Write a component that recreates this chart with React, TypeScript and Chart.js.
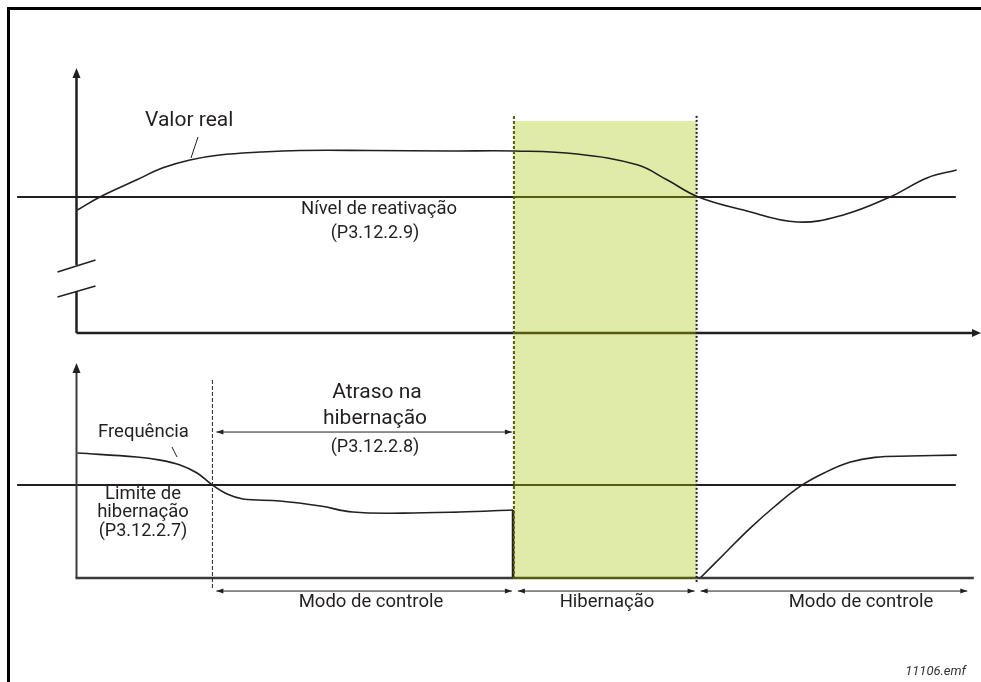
import React, { useEffect, useRef } from "react";
import { Chart, registerables } from "chart.js";
Chart.register(...registerables);

// time axis (abstract units) and the two panels' signal values (threshold = 50)
const valorRealT = [0.1, 2.6, 6.7, 9.6, 12.6, 15.9, 20.4, 24.8, 32.6, 41.5, 48.7, 55.6, 62.3, 65.6, 69.1, 74.1, 80.1, 85.2, 90.4, 94.5, 97.8];
const valorRealV = [45.2, 50, 56.3, 60.7, 63.6, 65.4, 66.5, 67.1, 67.1, 66.9, 66.9, 65.8, 61.8, 56.3, 50, 45.2, 40.8, 43.4, 50, 57.0, 59.9];

const freqBeforeT = [0.1, 6.7, 9.3, 11.5, 13.4, 15.1, 16.8, 18.5, 22.6, 27.1, 30.7, 36.3, 42.6, 48.5];
const freqBeforeV = [67.2, 65.1, 63.4, 60.8, 56.5, 50, 45.0, 42.5, 41.4, 38.7, 35.5, 34.9, 35.5, 36.6];
const freqDropT = [48.5, 48.5];
const freqDropV = [36.6, 0];
const freqAfterT = [69.3, 72.1, 74.8, 77.6, 80.4, 83.2, 85.9, 88.7, 92.6, 97.8];
const freqAfterV = [0, 13.6, 26.6, 38.6, 49.3, 56.8, 62.2, 64.9, 65.6, 66.1];

const wakeLevel = 50;
const sleepLimit = 50;
const levelSpan = [-6.6, 97.7];

// phase boundaries: delay start, hibernation start, hibernation end, end
const phaseBounds = [15.1, 48.6, 68.9, 99.2];
const phaseLabels = ["Modo de controle", "Hibernação", "Modo de controle"];
const hibernationTop = 77.9; // top-panel units

const X_MIN = -8.5, X_MAX = 100.5;
const TOP_MIN = -128.3, TOP_MAX = 122.4;
const BOT_MIN = -55.9, BOT_MAX = 310.8;

const INK = "#231f20";
const OLIVE = "#565a12";
const GREEN = "#e1eba8";
const FONT = "Roboto, 'Noto Sans', sans-serif";

const pts = (t: number[], v: number[]) => t.map((x, i) => ({ x, y: v[i] }));

const diagramPlugin = {
  id: "diagram",
  beforeDatasetsDraw(chart: any) {
    const { ctx } = chart;
    const xs = chart.scales.x, yT = chart.scales.yTop, yB = chart.scales.yBot;
    const x0 = xs.getPixelForValue(phaseBounds[1]);
    const x1 = xs.getPixelForValue(phaseBounds[2]);
    const top = yT.getPixelForValue(hibernationTop);
    const bot = yB.getPixelForValue(0);
    ctx.save();
    ctx.fillStyle = GREEN;
    ctx.fillRect(x0, top, x1 - x0, bot - top);
    // document frame
    ctx.fillStyle = "#000";
    ctx.fillRect(7, 7, 974, 3);
    ctx.fillRect(7, 7, 3, 675);
    ctx.restore();
  },
  afterDatasetsDraw(chart: any) {
    const { ctx } = chart;
    const xs = chart.scales.x, yT = chart.scales.yTop, yB = chart.scales.yBot;
    const X = (t: number) => xs.getPixelForValue(t);
    const gx0 = X(phaseBounds[1]), gx1 = X(phaseBounds[2]);
    ctx.save();
    const hline = (y: number, a: number, b: number, w: number, col: string) => {
      const segs: [number, number, string][] = [];
      if (a < gx0) segs.push([a, Math.min(b, gx0), col]);
      if (b > gx0 && a < gx1) segs.push([Math.max(a, gx0), Math.min(b, gx1), OLIVE]);
      if (b > gx1) segs.push([Math.max(a, gx1), b, col]);
      ctx.lineWidth = w;
      for (const [p, q, c] of segs) {
        ctx.strokeStyle = c;
        ctx.beginPath(); ctx.moveTo(p, y); ctx.lineTo(q, y); ctx.stroke();
      }
    };
    const line = (ax: number, ay: number, bx: number, by: number, w: number, col: string, dash: number[] = []) => {
      ctx.setLineDash(dash);
      ctx.lineWidth = w; ctx.strokeStyle = col;
      ctx.beginPath(); ctx.moveTo(ax, ay); ctx.lineTo(bx, by); ctx.stroke();
      ctx.setLineDash([]);
    };
    const head = (tx: number, ty: number, dx: number, dy: number, len: number, half: number, col: string) => {
      ctx.fillStyle = col;
      const px = -dy, py = dx;
      ctx.beginPath();
      ctx.moveTo(tx, ty);
      ctx.lineTo(tx - dx * len + px * half, ty - dy * len + py * half);
      ctx.lineTo(tx - dx * len - px * half, ty - dy * len - py * half);
      ctx.closePath(); ctx.fill();
    };
    const dimArrow = (a: number, b: number, y: number, both = true) => {
      line(a, y, b, y, 1, INK);
      head(b, y, 1, 0, 7, 2.5, INK);
      if (both) head(a, y, -1, 0, 7, 2.5, INK);
    };

    const ox = X(0);
    // top panel axes
    const tyAxis = yT.getPixelForValue(0);
    hline(tyAxis, ox, X(X_MAX) - 8, 2.5, INK);
    head(X(X_MAX), tyAxis, 1, 0, 9, 4, INK);
    const tipTop = yT.getPixelForValue(97.4);
    line(ox, tipTop + 8, ox, yT.getPixelForValue(25.0), 2.5, INK);
    line(ox, yT.getPixelForValue(15.4), ox, tyAxis, 2.5, INK);
    head(ox, tipTop, 0, -1, 10, 4, INK);
    line(ox - 19, yT.getPixelForValue(22.4), ox + 19, yT.getPixelForValue(26.8), 1.5, INK);
    line(ox - 19, yT.getPixelForValue(13.2), ox + 19, yT.getPixelForValue(17.3), 1.5, INK);

    // bottom panel axes
    const byAxis = yB.getPixelForValue(0);
    const tipBot = yB.getPixelForValue(115.6);
    line(ox, tipBot + 8, ox, byAxis, 2, "#3a3a3a");
    head(ox, tipBot, 0, -1, 10, 4, INK);
    hline(byAxis, ox - 1, X(99.7), 2.5, "#3a3a3a");

    // vertical markers
    line(X(phaseBounds[0]), yB.getPixelForValue(106.5), X(phaseBounds[0]), yB.getPixelForValue(-5.4), 1, INK, [4, 2]);
    line(gx0, yT.getPixelForValue(79.8), gx0, byAxis, 2, OLIVE, [3, 2]);
    line(gx1, yT.getPixelForValue(79.8), gx1, byAxis + 4, 2, INK, [2, 2]);

    // dimension arrows
    const yDelay = yB.getPixelForValue(78.5);
    dimArrow(X(phaseBounds[0]) + 4, X(phaseBounds[1]) - 2, yDelay);
    const yPh = yB.getPixelForValue(-7.0);
    for (let i = 0; i < 3; i++) {
      dimArrow(X(phaseBounds[i]) + 4, X(phaseBounds[i + 1]) - 2, yPh);
    }

    // leader lines
    line(198, 137, 191, 158, 1, INK);
    line(172, 447, 177, 457, 1, INK);

    // texts
    ctx.fillStyle = INK;
    ctx.textBaseline = "alphabetic";
    const txt = (s: string, x: number, y: number, size: number, align: CanvasTextAlign = "center", style = "") => {
      ctx.font = `${style} ${size}px ${FONT}`;
      ctx.textAlign = align;
      ctx.fillText(s, x, y);
    };
    txt("Valor real", 145, 126, 21, "left");
    txt("Nível de reativação", 379, 214, 18.5);
    txt("(P3.12.2.9)", 375, 238, 18);
    txt("Atraso na", 377, 398, 21);
    txt("hibernação", 375, 424, 21);
    txt("(P3.12.2.8)", 375, 452, 18);
    txt("Frequência", 98, 437, 18.5, "left");
    txt("Limite de", 143, 499, 18.5);
    txt("hibernação", 143, 517, 18.5);
    txt("(P3.12.2.7)", 143, 536, 18);
    const labelX = [371, 607, 861];
    phaseLabels.forEach((s, i) => txt(s, labelX[i], 607, 18.5));
    ctx.fillStyle = "#333";
    txt("11106.emf", 966, 675, 13, "right", "italic");
    ctx.restore();
  },
};

export default function App() {
  const ref = useRef<HTMLCanvasElement | null>(null);
  useEffect(() => {
    if (!ref.current) return;
    const lineDs = (label: string, data: any[], axis: string, extra: any = {}) => ({
      label, data, yAxisID: axis, borderColor: INK, borderWidth: 1.6,
      pointRadius: 0, fill: false, tension: 0.4, ...extra,
    });
    const levelLine = (v: number) => [
      { x: levelSpan[0], y: v }, { x: phaseBounds[1], y: v },
      { x: phaseBounds[2], y: v }, { x: levelSpan[1], y: v }];
    const levelStyle = {
      borderWidth: 2, tension: 0,
      segment: { borderColor: (c: any) => (c.p0DataIndex === 1 ? OLIVE : INK) },
    };
    const chart = new Chart(ref.current, {
      type: "line",
      data: {
        datasets: [
          lineDs("Nível de reativação", levelLine(wakeLevel), "yTop", levelStyle),
          lineDs("Limite de hibernação", levelLine(sleepLimit), "yBot", levelStyle),
          lineDs("Valor real", pts(valorRealT, valorRealV), "yTop"),
          lineDs("Frequência", pts(freqBeforeT, freqBeforeV), "yBot"),
          lineDs("Frequência queda", pts(freqDropT, freqDropV), "yBot", { borderWidth: 2.5, tension: 0 }),
          lineDs("Frequência retorno", pts(freqAfterT, freqAfterV), "yBot"),
        ],
      },
      options: {
        animation: false,
        responsive: false,
        parsing: false,
        layout: { padding: 0 },
        plugins: { legend: { display: false }, tooltip: { enabled: false } },
        events: [],
        scales: {
          x: { type: "linear", min: X_MIN, max: X_MAX, display: false },
          yTop: { type: "linear", min: TOP_MIN, max: TOP_MAX, display: false },
          yBot: { type: "linear", min: BOT_MIN, max: BOT_MAX, display: false },
        },
      },
      plugins: [diagramPlugin],
    } as any);
    return () => chart.destroy();
  }, []);
  return (
    <div style={{ position: "absolute", left: 0, top: 0, width: 981, height: 682, background: "#fff" }}>
      <canvas ref={ref} width={981} height={682} style={{ display: "block" }} />
    </div>
  );
}
